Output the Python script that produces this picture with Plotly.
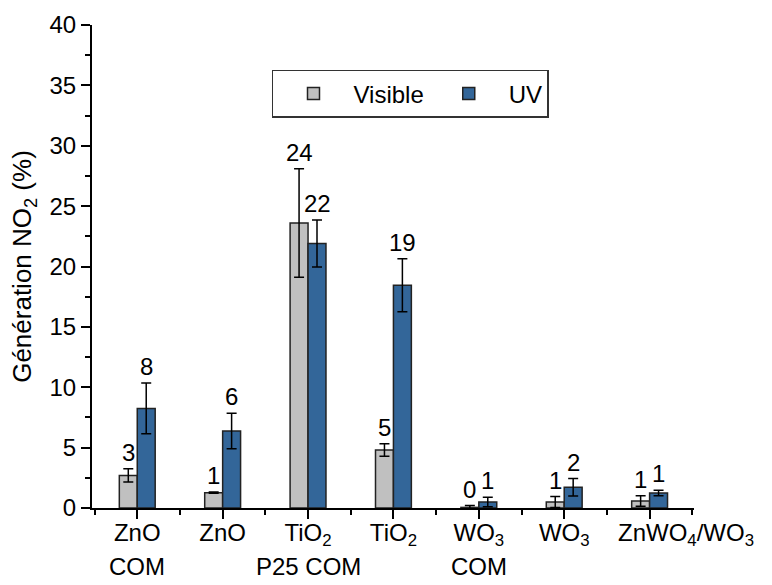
import plotly.graph_objects as go

# categories (first / second line of tick label)
cat_line1 = ["ZnO", "ZnO", "TiO<sub>2</sub>", "TiO<sub>2</sub>", "WO<sub>3</sub>", "WO<sub>3</sub>",
             "ZnWO<sub>4</sub>/WO<sub>3</sub>"]
cat_line2 = ["COM", "", "P25 COM", "", "COM", "", ""]

visible_vals = [2.7, 1.27, 23.6, 4.8, 0.05, 0.5, 0.58]
visible_err = [0.55, 0.05, 4.5, 0.52, 0.15, 0.45, 0.44]
visible_labels = ["3", "1", "24", "5", "0", "1", "1"]

uv_vals = [8.25, 6.38, 21.9, 18.45, 0.5, 1.72, 1.24]
uv_err = [2.1, 1.47, 1.95, 2.2, 0.4, 0.72, 0.22]
uv_labels = ["8", "6", "22", "19", "1", "2", "1"]

FONT = "Liberation Sans, Arial, sans-serif"
x = list(range(len(cat_line1)))
half_bar = 0.105

fig = go.Figure()
fig.add_trace(go.Bar(
    x=x, y=visible_vals, name="Visible",
    marker=dict(color="#C0C0C0", line=dict(color="#222222", width=1.5)),
    error_y=dict(type="data", array=visible_err, color="black", thickness=1.5, width=5),
))
fig.add_trace(go.Bar(
    x=x, y=uv_vals, name="UV",
    marker=dict(color="#336699", line=dict(color="#222222", width=1.5)),
    error_y=dict(type="data", array=uv_err, color="black", thickness=1.5, width=5),
))

label_font = dict(size=24, color="black", family=FONT)
annots = []
for i in x:
    annots.append(dict(x=i - half_bar, y=visible_vals[i] + visible_err[i], text=visible_labels[i],
                       xref="x", yref="y", yanchor="bottom", showarrow=False, yshift=1,
                       font=label_font))
    annots.append(dict(x=i + half_bar, y=uv_vals[i] + uv_err[i], text=uv_labels[i],
                       xref="x", yref="y", yanchor="bottom", showarrow=False, yshift=1,
                       font=label_font))
    if cat_line2[i]:
        annots.append(dict(x=i, y=0, text=cat_line2[i], xref="x", yref="y", yanchor="middle",
                           showarrow=False, yshift=-58, font=label_font))

# last category label is pushed right in the original so it does not hit "WO3"
tick_text = cat_line1[:-1] + [""]
annots.append(dict(x=x[-1], y=0, text=cat_line1[-1], xref="x", yref="y", xanchor="left",
                   yanchor="middle", showarrow=False, xshift=-34, yshift=-26, font=label_font))

fig.update_layout(
    width=772, height=585,
    margin=dict(l=92, r=78, t=25, b=77),
    paper_bgcolor="white", plot_bgcolor="white",
    barmode="group", bargap=0.58, bargroupgap=0,
    font=dict(family=FONT, size=24, color="black"),
    showlegend=True,
    legend=dict(orientation="h", x=0.299, y=0.907, xanchor="left", yanchor="top",
                bordercolor="#333333", borderwidth=1.5, font=dict(size=24),
                itemwidth=70, traceorder="normal"),
    annotations=annots,
)
fig.update_xaxes(
    range=[-0.53, 6.52], tickvals=x, ticktext=tick_text, automargin=False, tickangle=0,
    showline=True, linecolor="black", linewidth=2,
    ticks="outside", ticklen=9, tickwidth=2, tickcolor="black",
    tickfont=dict(size=24), showgrid=False, zeroline=False, ticklabelstandoff=-7,
    minor=dict(tickvals=[i - 0.5 for i in x] + [6.5], ticks="outside", ticklen=5,
               tickwidth=2, tickcolor="black"),
)
fig.update_yaxes(
    range=[0, 40], dtick=5, automargin=False,
    showline=True, linecolor="black", linewidth=2,
    ticks="outside", ticklen=9, tickwidth=2, tickcolor="black",
    showgrid=False, zeroline=False, tickfont=dict(size=24),
    title=dict(text="Génération NO<sub>2</sub> (%)", font=dict(size=26), standoff=10),
    minor=dict(dtick=2.5, ticks="outside", ticklen=5, tickwidth=2, tickcolor="black"),
)

# page body has a default 8px margin; drop it so the figure fills the window
fig.write_html("out.html", config={"displayModeBar": False},
               post_script="document.body.style.margin='0';")
